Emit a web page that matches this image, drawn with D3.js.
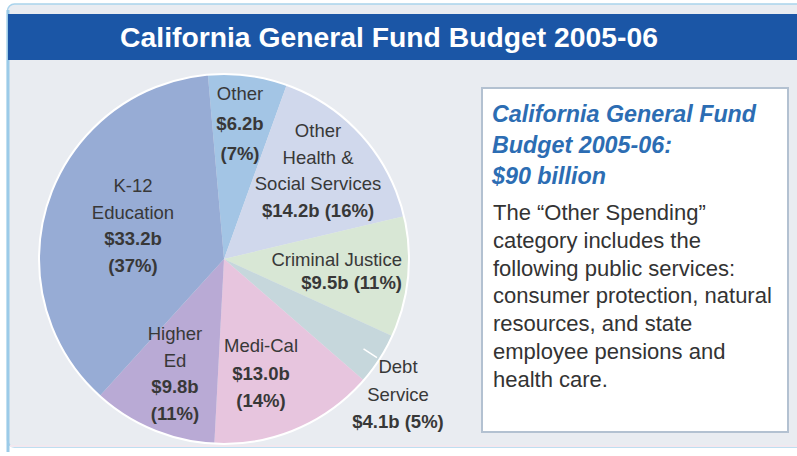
<!DOCTYPE html>
<html>
<head>
<meta charset="utf-8">
<script src="https://cdn.jsdelivr.net/npm/d3@7"></script>
<style>
  body { margin: 0; background: #fff; }
  text { font-family: "Liberation Sans", Arial, sans-serif; }
</style>
</head>
<body>
<div id="chart"></div>
<script>
//----------------------------------------------------------
// data, clockwise from the top of the pie
var categories = ["Other", "Other Health & Social Services", "Criminal Justice",
                  "Debt Service", "Medi-Cal", "Higher Ed", "K-12 Education"];
var values = [6.2, 14.2, 9.5, 4.1, 13.0, 9.8, 33.2];
var percents = [7, 16, 11, 5, 14, 11, 37];

// how each category name is broken over lines inside its label
var nameLines = [["Other"], ["Other", "Health &", "Social Services"], ["Criminal Justice"],
                 ["Debt", "Service"], ["Medi-Cal"], ["Higher", "Ed"], ["K-12", "Education"]];
// true when value and percent share one line
var sameLine = [false, true, true, true, false, false, false];

var totalText = "$90 billion";
var noteLines = ["The \u201cOther Spending\u201d", "category includes the",
                 "following public services:", "consumer protection, natural",
                 "resources, and state", "employee pensions and", "health care."];

//----------------------------------------------------------
// layout
var width = 797, height = 456;
var cx = 224, cy = 259, radius = 185;
var colours = ["#a3c5e5", "#d0d8ec", "#d8e7d5", "#c6d7dc", "#e7c5de", "#b9aad5", "#97acd5"];

// label anchor relative to pie centre: [dx, first baseline dy, line height, anchor]
var labelLayout = [
    [16, -159, 30, "middle"],
    [94, -122, 26.7, "middle"],
    [178, 7, 23, "end"],
    [174, 114, 27.5, "middle"],
    [37, 93, 27.5, "middle"],
    [-49, 81, 26.7, "middle"],
    [-91, -67, 26.7, "middle"]
];

var svg = d3.select("#chart")
  .append("svg")
    .attr("width", width)
    .attr("height", height);

// panel
svg.append("rect")
    .attr("x", 7.5).attr("y", 4)
    .attr("width", 800).attr("height", 443)
    .attr("rx", 7)
    .attr("fill", "#e9ecf1")
    .attr("stroke", "#a9d3ec")
    .attr("stroke-width", 1.5);

svg.append("line")
    .attr("x1", 8).attr("x2", 8)
    .attr("y1", 10).attr("y2", 452)
    .attr("stroke", "#9ccbe8")
    .attr("stroke-width", 3);

svg.append("line")
    .attr("x1", 10).attr("x2", 797)
    .attr("y1", 446).attr("y2", 446)
    .attr("stroke", "#f2e8ef")
    .attr("stroke-width", 2);

// title bar
svg.append("rect")
    .attr("x", 8).attr("y", 14)
    .attr("width", 789).attr("height", 46)
    .attr("fill", "#1b56a6");

svg.append("text")
    .attr("x", 389).attr("y", 47)
    .attr("text-anchor", "middle")
    .attr("fill", "#fff")
    .attr("font-size", 28.3)
    .attr("font-weight", "bold")
    .text("California General Fund Budget 2005-06");

//----------------------------------------------------------
// pie
var pie = d3.pie()
    .sort(null)
    .value(function (d) { return d; })
    .startAngle(-5 * Math.PI / 180)
    .endAngle(355 * Math.PI / 180);

var arc = d3.arc()
    .innerRadius(0)
    .outerRadius(radius);

var g_pie = svg.append("g")
    .attr("transform", "translate(" + cx + "," + cy + ")");

var arcs = pie(values);

g_pie.selectAll("path.slice")
  .data(arcs)
  .join("path")
    .attr("class", "slice")
    .attr("d", arc)
    .attr("fill", function (d, i) { return colours[i]; });

g_pie.append("circle")
    .attr("r", radius)
    .attr("fill", "none")
    .attr("stroke", "#fff")
    .attr("stroke-width", 2);

// small white tick pointing at the Debt Service slice
var debt = arcs[3];
var debtAngle = (debt.startAngle + debt.endAngle) / 2;
g_pie.append("line")
    .attr("x1", 166 * Math.sin(debtAngle)).attr("y1", -166 * Math.cos(debtAngle))
    .attr("x2", 182 * Math.sin(debtAngle)).attr("y2", -182 * Math.cos(debtAngle))
    .attr("stroke", "#fff")
    .attr("stroke-width", 1.5);

// labels
var fmt = d3.format(".1f");

g_pie.selectAll("text.label")
  .data(arcs)
  .join("text")
    .attr("class", "label")
    .attr("text-anchor", function (d, i) { return labelLayout[i][3]; })
    .attr("font-size", 18.5)
    .attr("fill", "#383838")
    .each(function (d, i) {
        var lay = labelLayout[i];
        var money = "$" + fmt(values[i]) + "b";
        var pct = "(" + percents[i] + "%)";
        var lines = nameLines[i].map(function (t) { return { t: t, b: false }; });
        if (sameLine[i]) {
            lines.push({ t: money + " " + pct, b: true });
        } else {
            lines.push({ t: money, b: true });
            lines.push({ t: pct, b: true });
        }
        d3.select(this).selectAll("tspan")
          .data(lines)
          .join("tspan")
            .attr("x", lay[0])
            .attr("y", function (l, k) { return lay[1] + k * lay[2]; })
            .attr("font-weight", function (l) { return l.b ? "bold" : "normal"; })
            .text(function (l) { return l.t; });
    });

//----------------------------------------------------------
// side note
svg.append("rect")
    .attr("x", 482).attr("y", 88)
    .attr("width", 306).attr("height", 344)
    .attr("fill", "#fff")
    .attr("stroke", "#b3c1d1")
    .attr("stroke-width", 2);

svg.append("text")
    .attr("fill", "#2c6db3")
    .attr("font-size", 23.3)
    .attr("font-weight", "bold")
    .attr("font-style", "italic")
  .selectAll("tspan")
  .data(["California General Fund", "Budget 2005-06:", totalText])
  .join("tspan")
    .attr("x", 492)
    .attr("y", function (d, i) { return 122 + i * 31; })
    .text(function (d) { return d; });

svg.append("text")
    .attr("fill", "#333")
    .attr("font-size", 22)
  .selectAll("tspan")
  .data(noteLines)
  .join("tspan")
    .attr("x", 493)
    .attr("y", function (d, i) { return 220 + i * 27.8; })
    .text(function (d) { return d; });
</script>
</body>
</html>
